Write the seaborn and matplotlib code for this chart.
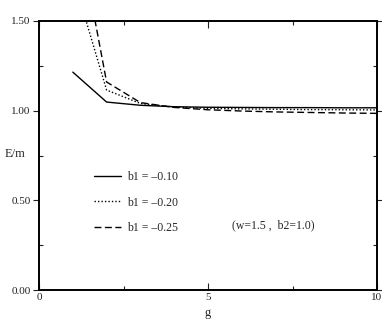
import numpy as np
import pandas as pd
import matplotlib
matplotlib.use("Agg")
import matplotlib.pyplot as plt
import seaborn as sns
from matplotlib.ticker import MultipleLocator

# values
g = [1, 2, 3, 4, 5, 6, 7, 8, 9, 10]
e_b010 = [1.215, 1.048, 1.030, 1.022, 1.019, 1.018, 1.017, 1.017, 1.016, 1.016]
e_b020 = [1.75, 1.115, 1.040, 1.020, 1.013, 1.010, 1.008, 1.006, 1.005, 1.004]
e_b025 = [2.16, 1.160, 1.045, 1.018, 1.005, 0.998, 0.993, 0.990, 0.987, 0.985]
labels = ["b1 = \u20130.10", "b1 = \u20130.20", "b1 = \u20130.25"]
x_ticks = [0, 5, 10]
y_ticks = [0.0, 0.5, 1.0, 1.5]
y_tick_labels = ["0.00", "0.50", "1.00", "1.50"]

df = pd.concat([
    pd.DataFrame({"g": g, "E": e_b010, "curve": labels[0]}),
    pd.DataFrame({"g": g, "E": e_b020, "curve": labels[1]}),
    pd.DataFrame({"g": g, "E": e_b025, "curve": labels[2]}),
])

sns.set_style("ticks")
plt.rcParams["font.family"] = ["Liberation Serif", "DejaVu Serif"]

fig = plt.figure(figsize=(3.82, 3.27), dpi=100)
ax = fig.add_axes([39 / 382, 1 - 290 / 327, 338 / 382, 269 / 327])

sns.lineplot(data=df, x="g", y="E", style="curve", style_order=labels,
             dashes={labels[0]: "", labels[1]: (1, 1.5), labels[2]: (5, 2.5)},
             color="black", linewidth=1.0, ax=ax, legend=False)

ax.set_xticks(x_ticks, [str(t) for t in x_ticks])
ax.set_yticks(y_ticks, y_tick_labels)
ax.xaxis.set_minor_locator(MultipleLocator(2.5))
ax.yaxis.set_minor_locator(MultipleLocator(0.25))
ax.set_xlim(0, 10)
ax.set_ylim(0, 1.5)
ax.tick_params(which="both", top=True, right=True, direction="in", labelsize=8,
               width=0.8, pad=2, colors="#222222")
ax.tick_params(axis="y", which="major", left=True, direction="out", length=4)
ax.tick_params(axis="x", which="major", length=5)
ax.tick_params(which="minor", length=3)
for s in ax.spines.values():
    s.set_linewidth(1.4)
    s.set_color("black")

ax.set_xlabel("g", fontsize=9, labelpad=4)
ax.set_ylabel("E/m", fontsize=9, rotation=0, va="center")
ax.yaxis.set_label_coords(-0.07, 0.505)

handles = ax.get_lines()[:3]
leg = ax.legend(handles, labels, loc="upper left", bbox_to_anchor=(0.13, 0.482),
                frameon=False, fontsize=8.5, handlelength=2.3, labelspacing=1.15,
                handletextpad=0.5)
ax.text(0.57, 0.24, "(w=1.5 ,  b2=1.0)", transform=ax.transAxes, fontsize=8.5,
        va="center", ha="left")

fig.savefig("out.png", dpi=100)
